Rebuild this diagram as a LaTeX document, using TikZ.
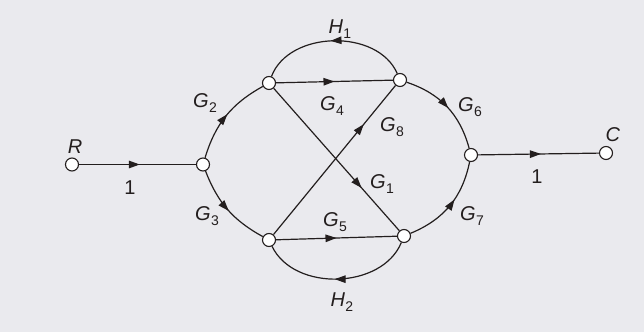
\documentclass[tikz,border=0pt]{standalone}
\usepackage{fontspec}
\setmainfont{Liberation Sans}
\usetikzlibrary{arrows.meta,decorations.markings}
\definecolor{paper}{RGB}{234,234,238}
\definecolor{ink}{RGB}{35,30,30}
\newcommand{\gl}[2]{\textit{#1}\kern0.3pt\raisebox{-0.45ex}{\fontsize{14}{15}\selectfont #2}}
\pgfdeclarelayer{bg}
\pgfsetlayers{bg,main}
\begin{document}
\begin{tikzpicture}[x=1pt,y=1pt,
  sig/.style={circle,draw=ink,fill=white,line width=1.1pt,minimum size=13pt,inner sep=0pt},
  br/.style={ink,line width=1.2pt},
  midarrow/.style={postaction={decorate},decoration={markings,mark=at position #1 with {\arrow{Triangle[length=11pt,width=7.5pt]}}}},
  midarrow/.default=0.52,
  lbl/.style={font=\fontsize{20}{22}\selectfont,text=ink,inner sep=0pt}]
\useasboundingbox (0,0) rectangle (644,332);
% signal nodes
\node[sig] (R) at (72,167.5) {};
\node[sig] (A) at (203,167.5) {};
\node[sig] (B) at (269,249) {};
\node[sig] (D) at (400,252) {};
\node[sig] (E) at (269,92) {};
\node[sig] (F) at (404,96) {};
\node[sig] (J) at (471,177) {};
\node[sig] (C) at (606,179) {};
\begin{pgfonlayer}{bg}
\fill[paper] (0,0) rectangle (644,332);
\draw[br,midarrow] (R) -- (A);
\draw[br,midarrow] (A) to[bend left=22] (B);
\draw[br,midarrow] (A) to[bend right=20] (E);
\draw[br,midarrow=0.5] (B) -- (D);
\draw[br,midarrow] (D) to[bend right=68] (B);
\draw[br,midarrow=0.7] (B) -- (F);
\draw[br,midarrow=0.74] (E) -- (D);
\draw[br,midarrow=0.5] (E) -- (F);
\draw[br,midarrow] (F) to[bend left=66] (E);
\draw[br,midarrow] (D) to[bend left=28] (J);
\draw[br,midarrow=0.58] (F) to[bend right=28] (J);
\draw[br,midarrow] (J) -- (C);
\end{pgfonlayer}
% labels
\node[lbl] (lH1) at (340,303) {\gl{H}{1}};
\node[lbl] (lG2) at (205,229) {\gl{G}{2}};
\node[lbl] (lG4) at (332,226) {\gl{G}{4}};
\node[lbl] (lG8) at (392,205) {\gl{G}{8}};
\node[lbl] (lG6) at (470,225) {\gl{G}{6}};
\node[lbl] (lG1) at (382,148) {\gl{G}{1}};
\node[lbl] (lG3) at (207,116) {\gl{G}{3}};
\node[lbl] (lG5) at (335,110) {\gl{G}{5}};
\node[lbl] (lG7) at (472,116) {\gl{G}{7}};
\node[lbl] (lH2) at (342,30) {\gl{H}{2}};
\node[lbl] (lR) at (75,185) {\textit{R}};
\node[lbl] (l1a) at (130,144) {1};
\node[lbl] (lC) at (613,197) {\textit{C}};
\node[lbl] (l1b) at (537,155) {1};
\end{tikzpicture}
\end{document}
